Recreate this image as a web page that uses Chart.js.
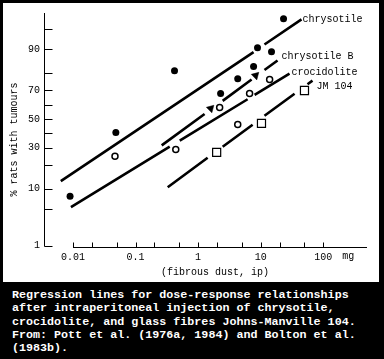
<!DOCTYPE html>
<html>
<head>
<meta charset="utf-8">
<script src="https://cdn.jsdelivr.net/npm/chart.js@4.4.1/dist/chart.umd.min.js"></script>
<style>
  html, body { margin: 0; padding: 0; background: #000; }
  #frame { position: relative; width: 384px; height: 359px; background: #000; overflow: hidden; }
  #panel { position: absolute; left: 3px; top: 3px; width: 376px; height: 279px; background: #fff; }
  #caption { position: absolute; left: 12px; top: 289px; color: #fff;
             font: bold 11.7px 'Liberation Mono', monospace; line-height: 13.3px; white-space: pre; }
</style>
</head>
<body>
<div id="frame">
  <div id="panel"><canvas id="chart" width="376" height="279"></canvas></div>
  <div id="caption">Regression lines for dose-response relationships
after intraperitoneal injection of chrysotile,
crocidolite, and glass fibres Johns-Manville 104.
From: Pott et al. (1976a, 1984) and Bolton et al.
(1983b).</div>
</div>
<script>
// ---- data: x = fibrous dust (mg, ip), y = % rats with tumours ----
const chrysotileX  = [0.009, 0.0485, 0.42, 2.29, 4.3, 7.7, 8.9, 14.9, 23.2];
const chrysotileY  = [7.8, 40.2, 81.2, 67.9, 77.0, 83.2, 90.4, 89.1, 96.7];
const chrysotileBX = [1.59, 8.3];
const chrysotileBY = [57.6, 78.7];
const crocidoliteX = [0.047, 0.44, 2.21, 4.3, 6.65, 13.9];
const crocidoliteY = [24.7, 28.8, 58.3, 46.0, 67.9, 76.5];
const jm104X       = [1.98, 10.3, 50.1];
const jm104Y       = [27.0, 46.7, 69.9];

// regression lines, drawn in broken pieces (null = break in the line)
const chrysotileLineX  = [0.0064, 7.7, null, 11.5, 44.9];
const chrysotileLineY  = [12.7, 89.0, null, 91.4, 96.6];
const chrysotileBLineX = [0.262, 1.27, null, 2.47, 7.16, null, 11.5, 18.6];
const chrysotileBLineY = [31.4, 53.6, null, 63.0, 76.5, null, 81.5, 85.8];
const crocidoliteLineX = [0.0093, 0.352, null, 0.509, 6.18, null, 8.0, 28.9];
const crocidoliteLineY = [5.3, 30.5, null, 34.5, 64.1, null, 67.0, 79.7];
const jm104LineX       = [0.327, 1.42, null, 2.47, 7.43, null, 11.5, 34.8, null, 56, 67.3];
const jm104LineY       = [10.5, 23.8, null, 30.5, 45.8, null, 52.3, 67.8, null, 73.8, 75.9];

const lineNames = ['chrysotile', 'chrysotile B', 'crocidolite', 'JM 104'];

// axes
const xTicks      = [0.01, 0.02, 0.05, 0.1, 0.2, 0.5, 1, 2, 5, 10, 20, 50, 100];
const xTickLabels = ['0.01', '', '', '0.1', '', '', '1', '', '', '10', '', '', '100'];
const yTicks      = [1, 5, 10, 20, 30, 40, 50, 60, 70, 80, 90, 95];
const yTickLabels = ['1', '', '10', '', '30', '', '50', '', '70', '', '90', ''];
const xRange = [0.00345, 500];
const yRange = [0.94, 97.4];

// inverse normal cdf (Acklam) -> probability paper
function probit(p) {
  const a = [-39.69683028665376, 220.9460984245205, -275.9285104469687, 138.3577518672690, -30.66479806614716, 2.506628277459239];
  const b = [-54.47609879822406, 161.5858368580409, -155.6989798598866, 66.80131188771972, -13.28068155288572];
  const c = [-0.007784894002430293, -0.3223964580411365, -2.400758277161838, -2.549732539343734, 4.374664141464968, 2.938163982698783];
  const d = [0.007784695709041462, 0.3224671290700398, 2.445134137142996, 3.754408661907416];
  const lo = 0.02425;
  let q, r;
  if (p < lo) {
    q = Math.sqrt(-2 * Math.log(p));
    return (((((c[0]*q+c[1])*q+c[2])*q+c[3])*q+c[4])*q+c[5]) / ((((d[0]*q+d[1])*q+d[2])*q+d[3])*q+1);
  }
  if (p > 1 - lo) {
    q = Math.sqrt(-2 * Math.log(1 - p));
    return -(((((c[0]*q+c[1])*q+c[2])*q+c[3])*q+c[4])*q+c[5]) / ((((d[0]*q+d[1])*q+d[2])*q+d[3])*q+1);
  }
  q = p - 0.5; r = q * q;
  return (((((a[0]*r+a[1])*r+a[2])*r+a[3])*r+a[4])*r+a[5])*q / (((((b[0]*r+b[1])*r+b[2])*r+b[3])*r+b[4])*r+1);
}

const pts = (xs, ys) => xs.map((x, i) => x === null ? { x: null, y: null } : { x, y: probit(ys[i] / 100) });

const FONT = "'Liberation Mono', monospace";

const lineStyle = { showLine: true, borderColor: '#000', borderWidth: 2.6, pointRadius: 0, spanGaps: false, tension: 0 };

// axis lines, inward ticks, line names and titles
const decorPlugin = {
  id: 'decor',
  afterDraw(chart) {
    const { ctx, chartArea: a, scales: { x, y } } = chart;
    ctx.save();
    ctx.strokeStyle = '#000';
    ctx.lineWidth = 1;
    ctx.beginPath();
    const xl = Math.round(a.left) + 0.5;
    const yBottom = Math.round(y.getPixelForValue(probit(0.01))) + 0.5;
    ctx.moveTo(xl, Math.round(a.top));
    ctx.lineTo(xl, yBottom);
    y.ticks.forEach(t => {
      const py = Math.round(y.getPixelForValue(t.value)) + 0.5;
      ctx.moveTo(xl, py); ctx.lineTo(xl + 8, py);
    });
    const xb = Math.round(a.bottom) + 0.5;
    ctx.moveTo(Math.round(x.getPixelForValue(xTicks[0])), xb);
    ctx.lineTo(Math.round(a.right), xb);
    x.ticks.forEach(t => {
      const px = Math.round(x.getPixelForValue(t.value)) + 0.5;
      ctx.moveTo(px, xb); ctx.lineTo(px, xb - 5);
    });
    ctx.stroke();

    ctx.fillStyle = '#000';
    ctx.font = '10px ' + FONT;
    ctx.textBaseline = 'middle';
    ctx.textAlign = 'left';
    const offs = [[1, 0], [4, -4], [2, -1], [4, 6]];
    [4, 5, 6, 7].forEach((di, k) => {
      const pl = chart.getDatasetMeta(di).data;
      const last = pl[pl.length - 1];
      ctx.fillText(lineNames[k], last.x + offs[k][0], last.y + offs[k][1]);
    });
    ctx.fillText('mg', x.getPixelForValue(100) + 19, a.bottom + 9);

    ctx.textAlign = 'center';
    ctx.fillText('(fibrous dust, ip)', (a.left + a.right) / 2 + 9.5, a.bottom + 25.5);
    ctx.translate(a.left - 30, (a.top + a.bottom) / 2 + 9.5);
    ctx.rotate(-Math.PI / 2);
    ctx.fillText('% rats with tumours', 0, 0);
    ctx.restore();
  }
};

new Chart(document.getElementById('chart'), {
  type: 'scatter',
  data: {
    datasets: [
      { label: 'chrysotile', data: pts(chrysotileX, chrysotileY), pointStyle: 'circle', pointRadius: 3.5,
        backgroundColor: '#000', borderWidth: 0 },
      { label: 'chrysotile B', data: pts(chrysotileBX, chrysotileBY), pointStyle: 'triangle', pointRadius: 4.5,
        rotation: 165, backgroundColor: '#000', borderColor: '#000', borderWidth: 0.5 },
      { label: 'crocidolite', data: pts(crocidoliteX, crocidoliteY), pointStyle: 'circle', pointRadius: 3,
        backgroundColor: '#fff', borderColor: '#000', borderWidth: 1.5 },
      { label: 'JM 104', data: pts(jm104X, jm104Y), pointStyle: 'rect', pointRadius: 5.7,
        backgroundColor: '#fff', borderColor: '#000', borderWidth: 1.2 },
      { label: 'chrysotile line', data: pts(chrysotileLineX, chrysotileLineY), ...lineStyle },
      { label: 'chrysotile B line', data: pts(chrysotileBLineX, chrysotileBLineY), ...lineStyle },
      { label: 'crocidolite line', data: pts(crocidoliteLineX, crocidoliteLineY), ...lineStyle },
      { label: 'JM 104 line', data: pts(jm104LineX, jm104LineY), ...lineStyle }
    ]
  },
  options: {
    responsive: false,
    animation: false,
    devicePixelRatio: 1,
    events: [],
    layout: { padding: { top: 9, right: 12, left: 0, bottom: 0 } },
    plugins: { legend: { display: false }, tooltip: { enabled: false } },
    scales: {
      x: {
        type: 'logarithmic',
        min: xRange[0], max: xRange[1],
        afterBuildTicks: s => { s.ticks = xTicks.map(v => ({ value: v })); },
        afterFit: s => { s.height = 35; },
        grid: { display: false, drawTicks: false },
        border: { display: false },
        ticks: {
          autoSkip: false, maxRotation: 0, padding: 4, color: '#000',
          font: { family: FONT, size: 10 },
          callback: (v, i) => xTickLabels[i]
        }
      },
      y: {
        type: 'linear',
        min: probit(yRange[0] / 100), max: probit(yRange[1] / 100),
        afterBuildTicks: s => { s.ticks = yTicks.map(v => ({ value: probit(v / 100) })); },
        afterFit: s => { s.width = 41; },
        grid: { display: false, drawTicks: false },
        border: { display: false },
        ticks: {
          autoSkip: false, padding: 4, color: '#000',
          font: { family: FONT, size: 10 },
          callback: (v, i) => yTickLabels[i]
        }
      }
    }
  },
  plugins: [decorPlugin]
});
</script>
</body>
</html>
